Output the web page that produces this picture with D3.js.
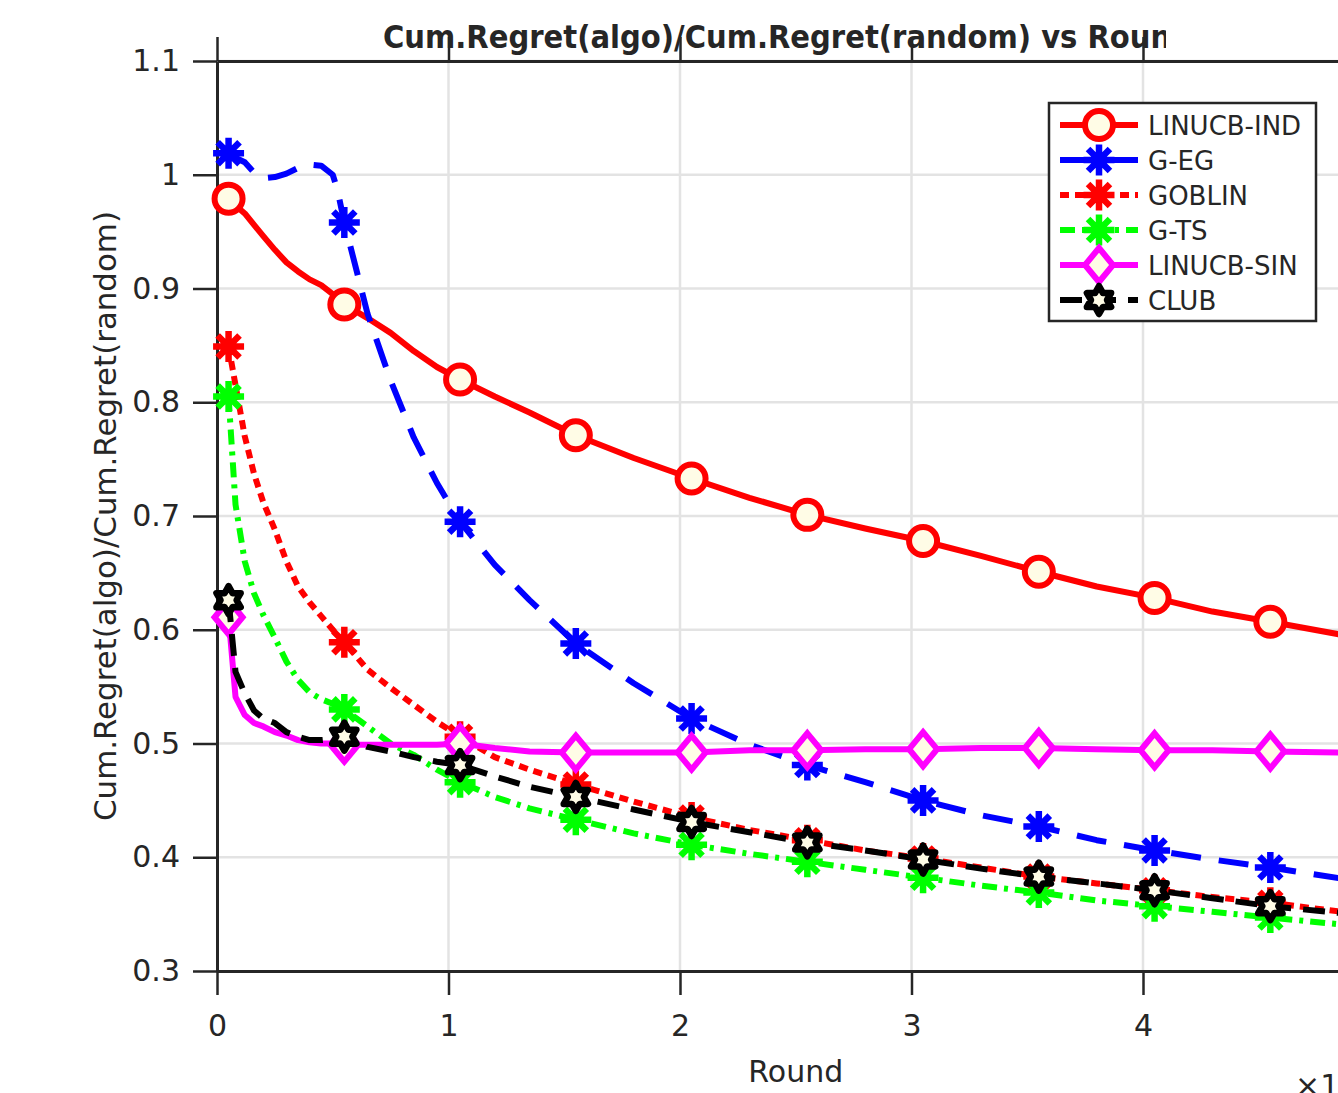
<!DOCTYPE html>
<html>
<head>
<meta charset="utf-8">
<script src="https://cdn.jsdelivr.net/npm/d3@7"></script>
<style>
  body { margin: 0; background: #fff; }
  text { font-family: "DejaVu Sans", sans-serif; fill: #262626; }
</style>
</head>
<body>
<svg id="chart" width="1338" height="1093"></svg>
<script>
// rounds in units of 10^4
var rounds = [0.05, 0.08, 0.12, 0.16, 0.2, 0.25, 0.3, 0.35, 0.4, 0.45, 0.5, 0.52, 0.55,
              0.65, 0.75, 0.85, 0.95, 1.05, 1.2, 1.35, 1.55, 1.8, 2.05, 2.3, 2.55, 2.8,
              3.05, 3.3, 3.55, 3.8, 4.05, 4.3, 4.55, 4.9];
var markerRounds = [0.05, 0.55, 1.05, 1.55, 2.05, 2.55, 3.05, 3.55, 4.05, 4.55];

var linucbInd = [0.979, 0.973, 0.966, 0.956, 0.946, 0.934, 0.923, 0.915, 0.908, 0.903, 0.895, 0.892, 0.886,
                 0.874, 0.861, 0.845, 0.831, 0.820, 0.805, 0.791, 0.771, 0.751, 0.733, 0.716, 0.701, 0.689,
                 0.678, 0.665, 0.651, 0.638, 0.628, 0.616, 0.607, 0.594];
var gEg = [1.019, 1.015, 1.011, 1.002, 0.997, 0.998, 1.001, 1.006, 1.009, 1.008, 1.000, 0.987, 0.958,
           0.878, 0.819, 0.769, 0.729, 0.695, 0.657, 0.626, 0.588, 0.553, 0.522, 0.499, 0.481, 0.466,
           0.450, 0.437, 0.427, 0.415, 0.406, 0.398, 0.391, 0.380];
var goblin = [0.849, 0.815, 0.770, 0.737, 0.712, 0.688, 0.660, 0.638, 0.624, 0.612, 0.600, 0.596, 0.589,
              0.565, 0.549, 0.534, 0.519, 0.506, 0.488, 0.477, 0.464, 0.449, 0.435, 0.424, 0.415, 0.406,
              0.399, 0.391, 0.383, 0.377, 0.371, 0.365, 0.360, 0.351];
var gTs = [0.805, 0.710, 0.660, 0.632, 0.613, 0.593, 0.572, 0.556, 0.545, 0.539, 0.535, 0.533, 0.530,
           0.515, 0.500, 0.490, 0.477, 0.466, 0.453, 0.443, 0.433, 0.421, 0.411, 0.403, 0.396, 0.389,
           0.382, 0.375, 0.369, 0.362, 0.357, 0.352, 0.347, 0.340];
var linucbSin = [0.611, 0.541, 0.525, 0.518, 0.515, 0.510, 0.507, 0.503, 0.501, 0.500, 0.500, 0.499, 0.499,
                 0.499, 0.499, 0.499, 0.499, 0.500, 0.496, 0.493, 0.492, 0.492, 0.492, 0.494, 0.494, 0.495,
                 0.495, 0.496, 0.496, 0.495, 0.494, 0.494, 0.493, 0.492];
var club = [0.626, 0.563, 0.544, 0.529, 0.522, 0.518, 0.510, 0.506, 0.503, 0.503, 0.504, 0.505, 0.506,
            0.497, 0.493, 0.488, 0.484, 0.481, 0.471, 0.462, 0.453, 0.442, 0.431, 0.422, 0.413, 0.406,
            0.398, 0.390, 0.383, 0.377, 0.371, 0.364, 0.357, 0.350];

var xTicks = [0, 1, 2, 3, 4, 5];
var xTickLabels = [0, 1, 2, 3, 4];
var yTicks = [0.3, 0.4, 0.5, 0.6, 0.7, 0.8, 0.9, 1.0, 1.1];

var series = [
  { name: "LINUCB-IND", values: linucbInd, color: "#ff0000", dash: null, marker: "circle" },
  { name: "G-EG", values: gEg, color: "#0000ff", dash: "30,18", marker: "asterisk" },
  { name: "GOBLIN", values: goblin, color: "#ff0000", dash: "9,6", marker: "asterisk" },
  { name: "G-TS", values: gTs, color: "#00ff00", dash: "15,7,4,7", marker: "asterisk" },
  { name: "LINUCB-SIN", values: linucbSin, color: "#ff00ff", dash: null, marker: "diamond" },
  { name: "CLUB", values: club, color: "#000000", dash: "22,12", marker: "hexagram" }
];

var ivory = "#fffce6";
var axisColor = "#262626";

var svg = d3.select("#chart");
svg.append("rect").attr("width", 1338).attr("height", 1093).attr("fill", "#fff");

var x = d3.scaleLinear().domain([0, 5]).range([217, 1374.5]);
var y = d3.scaleLinear().domain([0.3, 1.1]).range([971, 61]);

// grid
var grid = svg.append("g").attr("stroke", "#e3e3e3").attr("stroke-width", 2.5);
grid.selectAll(".gx").data(xTicks.slice(1)).enter().append("line")
    .attr("x1", function(d) { return x(d); }).attr("x2", function(d) { return x(d); })
    .attr("y1", y(0.3)).attr("y2", y(1.1));
grid.selectAll(".gy").data(yTicks.slice(1)).enter().append("line")
    .attr("x1", x(0)).attr("x2", x(5))
    .attr("y1", function(d) { return y(d); }).attr("y2", function(d) { return y(d); });

// axes
function styleAxis(g) {
  g.select(".domain").attr("stroke", axisColor).attr("stroke-width", 3);
  g.selectAll(".tick line").attr("stroke", axisColor).attr("stroke-width", 2.5);
  g.selectAll(".tick text").attr("font-size", 30).attr("fill", axisColor)
    .attr("font-family", "DejaVu Sans, sans-serif");
}

svg.append("g").attr("transform", "translate(0," + y(0.3) + ")")
  .call(d3.axisBottom(x).tickValues(xTicks).tickSize(24).tickSizeOuter(0).tickPadding(20)
        .tickFormat(function(d) { return xTickLabels.indexOf(d) >= 0 ? d3.format("d")(d) : ""; }))
  .call(styleAxis);
svg.append("g").attr("transform", "translate(0," + y(1.1) + ")")
  .call(d3.axisTop(x).tickValues(xTicks).tickSize(24).tickSizeOuter(0).tickFormat(""))
  .call(styleAxis);
svg.append("g").attr("transform", "translate(" + x(0) + ",0)")
  .call(d3.axisLeft(y).tickValues(yTicks).tickSize(24).tickSizeOuter(0).tickPadding(13)
        .tickFormat(function(d) { return d === 1 ? "1" : d3.format(".1f")(d); }))
  .call(styleAxis);
svg.append("g").attr("transform", "translate(" + x(5) + ",0)")
  .call(d3.axisRight(y).tickValues(yTicks).tickSize(24).tickSizeOuter(0).tickFormat(""))
  .call(styleAxis);

// markers
function addMarker(g, type, color) {
  if (type === "circle") {
    g.append("circle").attr("r", 14).attr("fill", ivory).attr("stroke", color).attr("stroke-width", 6);
  } else if (type === "asterisk") {
    var s = 15.5, d = s * 0.707;
    g.append("path")
      .attr("d", "M" + (-s) + ",0L" + s + ",0M0," + (-s) + "L0," + s +
                 "M" + (-d) + "," + (-d) + "L" + d + "," + d + "M" + (-d) + "," + d + "L" + d + "," + (-d))
      .attr("stroke", color).attr("stroke-width", 6.5).attr("fill", "none");
  } else if (type === "diamond") {
    g.append("path").attr("d", "M0,-17L14,0L0,17L-14,0Z")
      .attr("fill", ivory).attr("stroke", color).attr("stroke-width", 6).attr("stroke-linejoin", "miter");
  } else if (type === "hexagram") {
    var pts = [];
    for (var i = 0; i < 12; i++) {
      var r = i % 2 === 0 ? 14 : 8;
      var a = -Math.PI / 2 + i * Math.PI / 6;
      pts.push([r * Math.cos(a), r * Math.sin(a)]);
    }
    g.append("path").attr("d", "M" + pts.map(function(p) { return p[0].toFixed(2) + "," + p[1].toFixed(2); }).join("L") + "Z")
      .attr("fill", ivory).attr("stroke", color).attr("stroke-width", 6.5).attr("stroke-linejoin", "round");
  }
}

var line = d3.line()
  .x(function(d) { return x(d[0]); })
  .y(function(d) { return y(d[1]); });

series.forEach(function(s) {
  var pts = rounds.map(function(r, i) { return [r, s.values[i]]; });
  svg.append("path").datum(pts)
    .attr("d", line)
    .attr("fill", "none")
    .attr("stroke", s.color)
    .attr("stroke-width", 6)
    .attr("stroke-linejoin", "round")
    .attr("stroke-dasharray", s.dash);
  pts.filter(function(p) { return markerRounds.indexOf(p[0]) >= 0; }).forEach(function(p) {
    var g = svg.append("g").attr("transform", "translate(" + x(p[0]) + "," + y(p[1]) + ")");
    addMarker(g, s.marker, s.color);
  });
});

// title (clipped as in reference)
svg.append("clipPath").attr("id", "titleClip")
  .append("rect").attr("x", 0).attr("y", 0).attr("width", 1166).attr("height", 60);
svg.append("text")
  .attr("clip-path", "url(#titleClip)")
  .attr("x", 383).attr("y", 48)
  .attr("font-size", 32).attr("font-weight", "bold").attr("fill", "#000")
  .attr("textLength", 809).attr("lengthAdjust", "spacingAndGlyphs")
  .text("Cum.Regret(algo)/Cum.Regret(random) vs Round");

// axis labels
svg.append("text")
  .attr("transform", "translate(116," + ((61 + 971) / 2) + ") rotate(-90)")
  .attr("text-anchor", "middle")
  .attr("font-size", 30)
  .attr("textLength", 610).attr("lengthAdjust", "spacingAndGlyphs")
  .text("Cum.Regret(algo)/Cum.Regret(random)");

svg.append("text")
  .attr("x", (x(0) + x(5)) / 2).attr("y", 1082)
  .attr("text-anchor", "middle")
  .attr("font-size", 30)
  .text("Round");

var exp = svg.append("text").attr("x", 1295).attr("y", 1096).attr("font-size", 30);
exp.append("tspan").text("\u00d710");
exp.append("tspan").attr("font-size", 20).attr("dy", -14).text("4");

// legend
var lg = svg.append("g");
lg.append("rect").attr("x", 1049).attr("y", 103).attr("width", 267).attr("height", 218)
  .attr("fill", "#fff").attr("stroke", axisColor).attr("stroke-width", 2.5);
series.forEach(function(s, i) {
  var cy = 125 + i * 35;
  lg.append("line").attr("x1", 1060).attr("x2", 1138).attr("y1", cy).attr("y2", cy)
    .attr("stroke", s.color).attr("stroke-width", 6).attr("stroke-dasharray", s.dash);
  var g = lg.append("g").attr("transform", "translate(1099," + cy + ")");
  addMarker(g, s.marker, s.color);
  lg.append("text").attr("x", 1148).attr("y", cy + 9.5).attr("font-size", 26).attr("fill", "#000")
    .text(s.name);
});
</script>
</body>
</html>
